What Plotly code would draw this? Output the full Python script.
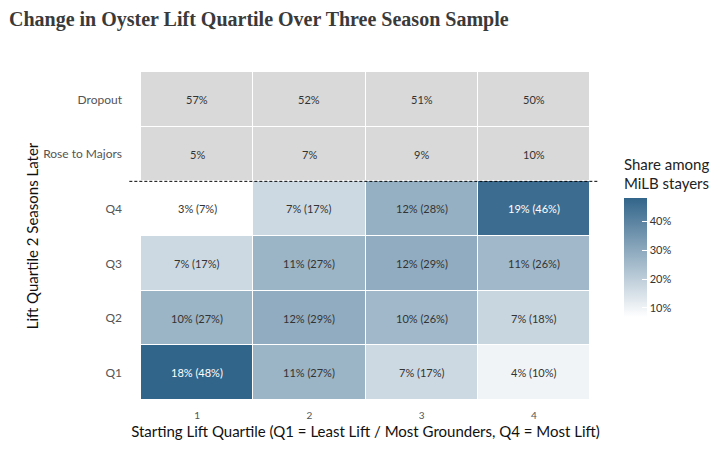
import plotly.graph_objects as go

start_q = ["1", "2", "3", "4"]
stayer_rows = ["Q1", "Q2", "Q3", "Q4"]
exit_rows = ["Rose to Majors", "Dropout"]

# share of all players (%)
overall_q1 = [18, 11, 7, 4]
overall_q2 = [10, 12, 10, 7]
overall_q3 = [7, 11, 12, 11]
overall_q4 = [3, 7, 12, 19]
# share among MiLB stayers (%)
stayer_q1 = [48, 27, 17, 10]
stayer_q2 = [27, 29, 26, 18]
stayer_q3 = [17, 27, 29, 26]
stayer_q4 = [7, 17, 28, 46]
# exits (%)
rose_to_majors = [5, 7, 9, 10]
dropout = [57, 52, 51, 50]

overall = [overall_q1, overall_q2, overall_q3, overall_q4]
stayer = [stayer_q1, stayer_q2, stayer_q3, stayer_q4]
exits = [rose_to_majors, dropout]

FONT = "Lato"
all_rows = stayer_rows + exit_rows

fig = go.Figure()
fig.add_trace(go.Heatmap(
    x=start_q, y=stayer_rows, z=stayer,
    colorscale=[[0, "#ffffff"], [1, "#32658a"]],
    zmin=7, zmax=48, xgap=1, ygap=1, hoverinfo="skip",
    colorbar=dict(
        title=dict(text="Share among<br>MiLB stayers", font=dict(family=FONT, size=15, color="#222")),
        tickvals=[10, 20, 30, 40], ticktext=["10%", "20%", "30%", "40%"],
        tickfont=dict(family=FONT, size=11, color="#333"),
        ticks="inside", tickcolor="white", ticklen=5, outlinewidth=0,
        thickness=23, len=0.49, lenmode="fraction", xpad=0, ypad=0,
        x=1.0757, xanchor="left", y=0.745, yanchor="top",
    ),
))
fig.add_trace(go.Heatmap(
    x=start_q, y=exit_rows, z=exits,
    colorscale=[[0, "#d9d9d9"], [1, "#d9d9d9"]],
    showscale=False, xgap=1, ygap=1, hoverinfo="skip",
))

for i, row in enumerate(stayer_rows):
    for j in range(len(start_q)):
        fig.add_annotation(
            x=j, y=row, text=f"{overall[i][j]}% ({stayer[i][j]}%)", showarrow=False,
            font=dict(family=FONT, size=11, color="white" if stayer[i][j] > 40 else "#333"),
        )
for i, row in enumerate(exit_rows):
    for j in range(len(start_q)):
        fig.add_annotation(
            x=j, y=row, text=f"{exits[i][j]}%", showarrow=False,
            font=dict(family=FONT, size=11, color="#333"),
        )

fig.add_shape(type="line", xref="paper", yref="paper", x0=-0.026, x1=1.02,
              y0=4 / 6, y1=4 / 6, line=dict(color="black", width=1, dash="3px,2px"))

fig.update_layout(
    width=713, height=441,
    margin=dict(l=133, r=131, t=64, b=49, autoexpand=False),
    paper_bgcolor="white", plot_bgcolor="white",
    title=dict(text="<b>Change in Oyster Lift Quartile Over Three Season Sample</b>",
               x=0.0014, xanchor="left", y=1.0, yanchor="top", pad=dict(t=4, b=0, l=0, r=0),
               font=dict(family="Liberation Serif", size=20, color="#3a3a3a")),
    xaxis=dict(type="category", categoryorder="array", categoryarray=start_q,
               range=[-0.5, 3.5], showgrid=False, zeroline=False, ticks="", ticklen=0,
               ticklabelstandoff=8,
               tickfont=dict(family=FONT, size=10, color="#555"),
               title=dict(text="Starting Lift Quartile (Q1 = Least Lift / Most Grounders, Q4 = Most Lift)",
                          font=dict(family=FONT, size=15, color="#111"), standoff=6)),
    yaxis=dict(type="category", categoryorder="array", categoryarray=all_rows,
               range=[-0.5, 5.5], showgrid=False, zeroline=False, ticks="", ticklabelstandoff=18,
               tickfont=dict(family=FONT, size=12, color="#555"),
               title=dict(text="Lift Quartile 2 Seasons Later",
                          font=dict(family=FONT, size=15, color="#111"), standoff=0)),
)

fig.write_html("out.html")
